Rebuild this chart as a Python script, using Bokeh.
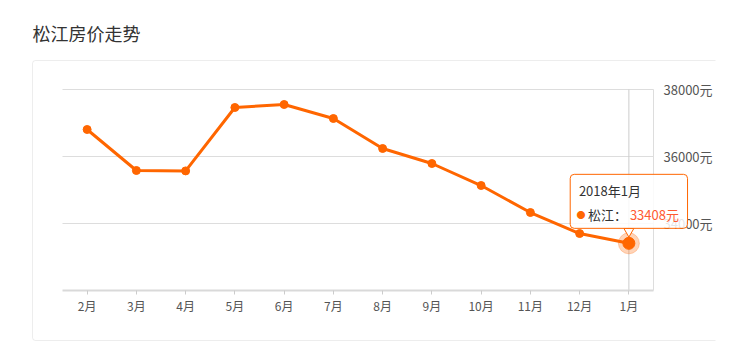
from bokeh.plotting import figure
from bokeh.models import (FactorRange, Range1d, FixedTicker, Label, BoxAnnotation,
                          CategoricalAxis, LinearAxis)
from bokeh.embed import file_html
from bokeh.resources import INLINE

# ---- data ----
title_text = "松江房价走势"
series_name = "松江"
months = ["2月", "3月", "4月", "5月", "6月", "7月", "8月", "9月", "10月", "11月", "12月", "1月"]
prices = [36806, 35582, 35570, 37463, 37552, 37134, 36239, 35791, 35134, 34328, 33701, 33408]
y_ticks = [34000, 36000, 38000]
y_tick_labels = ["34000元", "36000元", "38000元"]
tooltip_date = "2018年1月"
tooltip_value = "33408元"
Y0, Y1 = 32000, 38000

# ---- layout / style (pixels) ----
FONT = "Noto Sans CJK SC"
ORANGE = "#ff6600"
W, H = 731, 350
RIGHT_BORDER = 16
FRAME_W = W - RIGHT_BORDER
DATA_LEFT, DATA_RIGHT, DATA_TOP, DATA_BOTTOM = 62, 653, 89, 290

n = len(months)
unit_px = (DATA_RIGHT - DATA_LEFT) / n
side_units = DATA_LEFT / unit_px
upp = (Y1 - Y0) / (DATA_BOTTOM - DATA_TOP)  # data units per pixel

p = figure(width=W, height=H,
           x_range=FactorRange(*months, range_padding=2 * side_units / n,
                               range_padding_units="percent"),
           y_range=Range1d(Y0 - (H - DATA_BOTTOM) * upp, Y1 + DATA_TOP * upp),
           x_axis_location=None, y_axis_location=None,
           output_backend="svg", toolbar_location=None,
           min_border_left=0, min_border_right=RIGHT_BORDER,
           min_border_top=0, min_border_bottom=0)
p.outline_line_color = None
p.background_fill_color = "white"
p.border_fill_color = "white"
for g in p.grid:
    g.visible = False

# outer panel frame (screen units relative to the plot frame's bottom-left)
p.add_layout(BoxAnnotation(left=32, right=FRAME_W + 40, top=H - 60, bottom=H - 340,
                           left_units="screen", right_units="screen",
                           top_units="screen", bottom_units="screen",
                           fill_alpha=0, line_color="#c4c4c4", line_width=1,
                           border_radius=3, level="underlay"))

# title
p.add_layout(Label(x=32, y=H - 32, x_units="screen", y_units="screen",
                   text=title_text, text_align="left", text_baseline="middle",
                   text_font=FONT, text_font_size="18px", text_color="#333333"))

# x axis
xa = CategoricalAxis(fixed_location=Y0, bounds=(0, n))
xa.axis_line_color = "#d9d9d9"
xa.axis_line_width = 2
xa.major_tick_line_color = "#cccccc"
xa.major_tick_in = 0
xa.major_tick_out = 4
xa.minor_tick_line_color = None
xa.major_label_text_font = FONT
xa.major_label_text_font_size = "12px"
xa.major_label_text_color = "#555555"
xa.major_label_standoff = 2
p.add_layout(xa, "below")

# y axis (right)
ya = LinearAxis(fixed_location=float(n), bounds=(Y0, Y1), ticker=FixedTicker(ticks=y_ticks))
ya.major_label_overrides = {t: s for t, s in zip(y_ticks, y_tick_labels)}
ya.axis_line_color = "#dddddd"
ya.major_tick_line_color = None
ya.major_tick_in = 0
ya.major_tick_out = 0
ya.minor_tick_line_color = None
ya.major_label_standoff = 10
ya.major_label_text_font = FONT
ya.major_label_text_font_size = "13px"
ya.major_label_text_color = "#555555"
p.add_layout(ya, "right")

# horizontal grid lines across the category span
p.segment(x0=[0] * len(y_ticks), x1=[n] * len(y_ticks), y0=y_ticks, y1=y_ticks,
          line_color="#dddddd", line_width=1)

# crosshair at last month
p.segment(x0=[months[-1]], y0=[Y0], x1=[months[-1]], y1=[Y1], line_color="#cccccc", line_width=1)

# series
p.line(months, prices, line_color=ORANGE, line_width=3)
p.scatter(months, prices, size=8, color=ORANGE)
p.scatter([months[-1]], [prices[-1]], size=21, color=ORANGE, alpha=0.28)
p.scatter([months[-1]], [prices[-1]], size=12, color=ORANGE)

# tooltip pointer
p.scatter([months[-1]], [prices[-1] + 12 * upp], marker="inverted_triangle", size=10,
          fill_color="white", line_color=ORANGE)

# tooltip anchored on the last point (factor centre in synthetic coordinates)
tx = n - 0.5
ty = prices[-1]
p.add_layout(Label(x=tx, y=ty, x_offset=0, y_offset=42, text=" ",
                   text_align="center", text_baseline="middle", text_font_size="12px",
                   padding=dict(left=57, right=57, top=20, bottom=20), border_radius=4,
                   background_fill_color="white", background_fill_alpha=0.85,
                   border_line_color=ORANGE, border_line_width=1, level="overlay"))
p.add_layout(Label(x=tx, y=ty, x_offset=-50, y_offset=53, text=tooltip_date,
                   text_align="left", text_baseline="middle", text_font=FONT,
                   text_font_size="13px", text_color="#333333", level="overlay"))
p.add_layout(Label(x=tx, y=ty, x_offset=-48, y_offset=29, text="●",
                   text_align="center", text_baseline="middle", text_font=FONT,
                   text_font_size="9px", text_color=ORANGE, level="overlay"))
p.add_layout(Label(x=tx, y=ty, x_offset=-41, y_offset=29, text=series_name + "：",
                   text_align="left", text_baseline="middle", text_font=FONT,
                   text_font_size="13px", text_color="#333333", level="overlay"))
p.add_layout(Label(x=tx, y=ty, x_offset=1, y_offset=29, text=tooltip_value,
                   text_align="left", text_baseline="middle", text_font=FONT,
                   text_font_size="13px", text_color="#ff5a32", level="overlay"))

open("out.html", "w").write(file_html(p, INLINE))
